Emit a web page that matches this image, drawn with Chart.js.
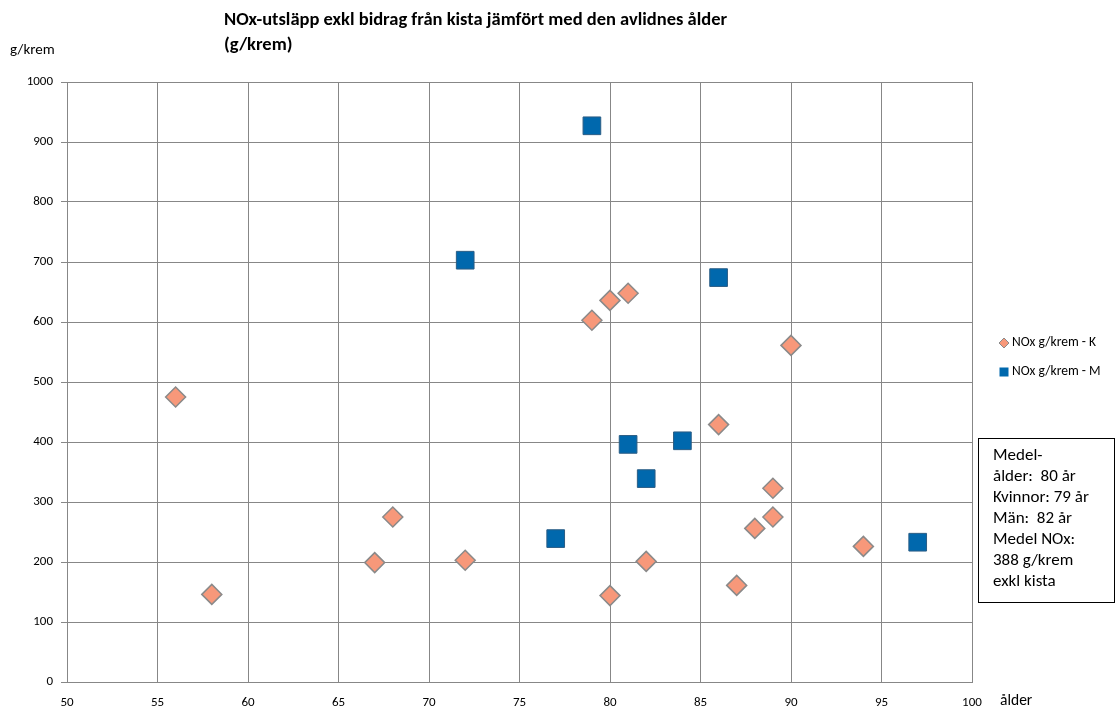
<!DOCTYPE html>
<html>
<head>
<meta charset="utf-8">
<script src="https://cdn.jsdelivr.net/npm/chart.js@4.4.1/dist/chart.umd.min.js"></script>
<style>
  html, body { margin: 0; padding: 0; background: #ffffff; }
  #wrap { width: 1116px; height: 709px; }
</style>
</head>
<body>
<div id="wrap"><canvas id="c" width="1116" height="709"></canvas></div>
<script>
// Women (K): age and NOx per cremation
const kAge = [56, 58, 67, 68, 72, 79, 80, 81, 80, 82, 86, 87, 88, 89, 89, 90, 94];
const kNox = [475, 146, 199, 275, 203, 603, 636, 648, 144, 201, 429, 161, 256, 323, 275, 561, 226];
// Men (M)
const mAge = [79, 72, 86, 81, 84, 82, 77, 97];
const mNox = [927, 703, 674, 396, 402, 339, 239, 233];

const titleLines = ['NOx-utsläpp exkl bidrag från kista jämfört med den avlidnes ålder', '(g/krem)'];
const seriesNames = ['NOx g/krem - K', 'NOx g/krem - M'];
const noteLines = ['Medel-', 'ålder:  80 år', 'Kvinnor: 79 år', 'Män:  82 år', 'Medel NOx:', '388 g/krem', 'exkl kista'];

const FONT = "'Carlito', 'Lato', 'Liberation Sans', sans-serif";
const GRID = '#878787';
const kFill = '#F7987A', kBorder = '#8a8a8a';
const mFill = '#0068AD', mBorder = '#2a5d85';

const toPoints = (xs, ys) => xs.map((x, i) => ({ x: x, y: ys[i] }));

const decorations = {
  id: 'decorations',
  afterDraw(chart) {
    const ctx = chart.ctx;
    ctx.save();
    ctx.fillStyle = '#000';
    ctx.textBaseline = 'middle';
    ctx.textAlign = 'left';

    // title
    ctx.font = 'bold 18.5px ' + FONT;
    ctx.fillText(titleLines[0], 224, 20);
    ctx.fillText(titleLines[1], 224, 45);

    // axis titles
    ctx.font = '15px ' + FONT;
    ctx.fillText('g/krem', 10, 50);
    ctx.font = '15.5px ' + FONT;
    ctx.fillText('ålder', 1000, 701);

    // legend
    ctx.font = '13.5px ' + FONT;
    const lx = 1004;
    ctx.beginPath();
    ctx.moveTo(lx, 343 - 5); ctx.lineTo(lx + 5, 343); ctx.lineTo(lx, 343 + 5); ctx.lineTo(lx - 5, 343); ctx.closePath();
    ctx.fillStyle = kFill; ctx.fill();
    ctx.strokeStyle = kBorder; ctx.lineWidth = 1; ctx.stroke();
    ctx.fillStyle = mFill;
    ctx.fillRect(lx - 4.5, 372 - 4.5, 9, 9);
    ctx.fillStyle = '#000';
    ctx.fillText(seriesNames[0], 1012, 343);
    ctx.fillText(seriesNames[1], 1012, 372);

    // note box
    ctx.strokeStyle = '#000';
    ctx.lineWidth = 1;
    ctx.strokeRect(978.5, 438.5, 136, 164);
    ctx.font = '17px ' + FONT;
    noteLines.forEach((t, i) => ctx.fillText(t, 993, 456 + i * 21));
    ctx.restore();
  }
};

new Chart(document.getElementById('c'), {
  type: 'scatter',
  data: {
    datasets: [
      {
        label: seriesNames[0],
        data: toPoints(kAge, kNox),
        pointStyle: 'rectRot',
        pointRadius: 10,
        pointHoverRadius: 10,
        backgroundColor: kFill,
        borderColor: kBorder,
        borderWidth: 1.5
      },
      {
        label: seriesNames[1],
        data: toPoints(mAge, mNox),
        pointStyle: 'rect',
        pointRadius: 12.5,
        pointHoverRadius: 12.5,
        backgroundColor: mFill,
        borderColor: mBorder,
        borderWidth: 1
      }
    ]
  },
  options: {
    responsive: false,
    animation: false,
    layout: { padding: { top: 82, right: 144, left: 0, bottom: 0 } },
    plugins: {
      legend: { display: false },
      title: { display: false },
      tooltip: { enabled: false }
    },
    scales: {
      x: {
        type: 'linear',
        min: 50, max: 100,
        ticks: { stepSize: 5, color: '#000', padding: 13, font: { family: FONT, size: 13 },
                 callback: v => String(v) },
        grid: { color: GRID, lineWidth: 1, drawTicks: false },
        border: { color: GRID, width: 1 },
        afterFit(s) { s.height = 27; }
      },
      y: {
        type: 'linear',
        min: 0, max: 1000,
        ticks: { stepSize: 100, color: '#000', padding: 8, font: { family: FONT, size: 13 },
                 callback: v => String(v) },
        grid: { color: GRID, lineWidth: 1, drawTicks: true, tickLength: 6 },
        border: { color: GRID, width: 1 },
        afterFit(s) { s.width = 67; }
      }
    }
  },
  plugins: [decorations]
});
</script>
</body>
</html>
